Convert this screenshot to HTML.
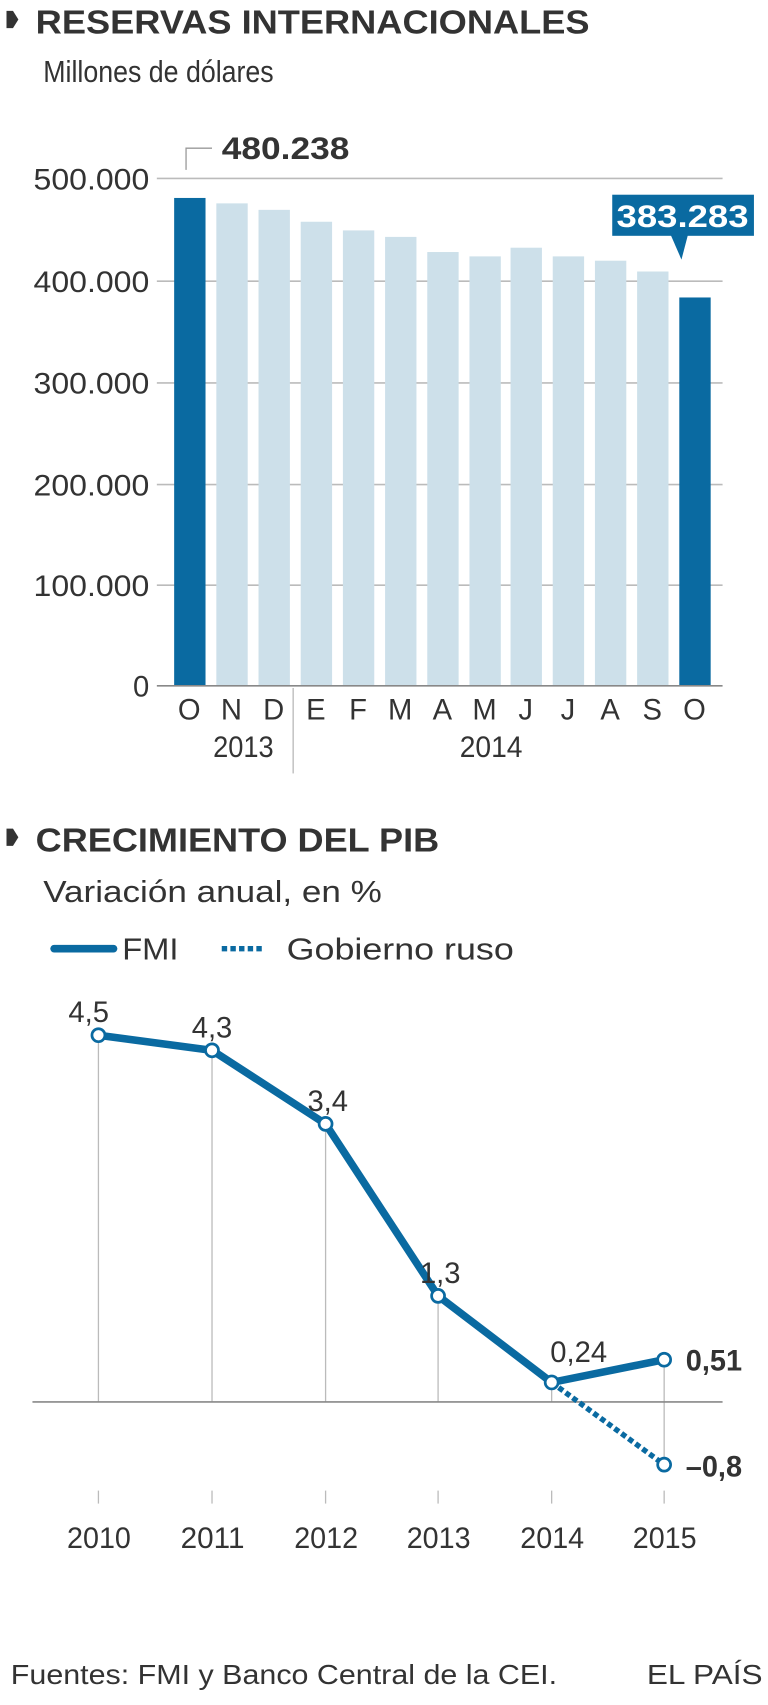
<!DOCTYPE html>
<html><head><meta charset="utf-8"><style>
html,body{margin:0;padding:0;background:#fff}
svg{display:block}
text{font-family:"Liberation Sans",sans-serif;fill:#333}
</style></head><body>
<svg width="768" height="1705" viewBox="0 0 710 1576.2" preserveAspectRatio="none">
<!-- Section 1 -->
<path d="M6 10 h6 l5 8 l-5 8 h-6z" fill="#333"/>
<text x="33" y="31" font-size="31" font-weight="bold" textLength="512" lengthAdjust="spacingAndGlyphs">RESERVAS INTERNACIONALES</text>
<text x="40" y="76" font-size="28" textLength="213" lengthAdjust="spacingAndGlyphs">Millones de dólares</text>
<g stroke="#bbb" stroke-width="1.5">
<line x1="145" y1="165" x2="668" y2="165"/>
<line x1="145" y1="260" x2="668" y2="260"/>
<line x1="145" y1="354" x2="668" y2="354"/>
<line x1="145" y1="448" x2="668" y2="448"/>
<line x1="145" y1="541" x2="668" y2="541"/>
</g>
<g font-size="27">
<text x="31" y="175" textLength="107" lengthAdjust="spacingAndGlyphs">500.000</text>
<text x="31" y="270" textLength="107" lengthAdjust="spacingAndGlyphs">400.000</text>
<text x="31" y="364" textLength="107" lengthAdjust="spacingAndGlyphs">300.000</text>
<text x="31" y="458" textLength="107" lengthAdjust="spacingAndGlyphs">200.000</text>
<text x="31" y="551" textLength="107" lengthAdjust="spacingAndGlyphs">100.000</text>
<text x="138" y="644" text-anchor="end">0</text>
</g>
<g fill="#cde0ea">
<rect x="200" y="188" width="29" height="446"/>
<rect x="239" y="194" width="29" height="440"/>
<rect x="278" y="205" width="29" height="429"/>
<rect x="317" y="213" width="29" height="421"/>
<rect x="356" y="219" width="29" height="415"/>
<rect x="395" y="233" width="29" height="401"/>
<rect x="434" y="237" width="29" height="397"/>
<rect x="472" y="229" width="29" height="405"/>
<rect x="511" y="237" width="29" height="397"/>
<rect x="550" y="241" width="29" height="393"/>
<rect x="589" y="251" width="29" height="383"/>
</g>
<rect x="161" y="183" width="29" height="451" fill="#0a6aa1"/>
<rect x="628" y="275" width="29" height="359" fill="#0a6aa1"/>
<line x1="145" y1="634" x2="668" y2="634" stroke="#888" stroke-width="1.5"/>
<polyline points="172,157 172,137 196,137" fill="none" stroke="#999" stroke-width="1.2"/>
<text x="205" y="147" font-size="29" font-weight="bold" textLength="118" lengthAdjust="spacingAndGlyphs">480.238</text>
<rect x="566" y="180" width="131" height="38" fill="#0a6aa1"/>
<polygon points="620,217 636,217 630,240" fill="#0a6aa1"/>
<text x="570" y="210" font-size="29" font-weight="bold" style="fill:#fff" textLength="122" lengthAdjust="spacingAndGlyphs">383.283</text>
<g font-size="27" text-anchor="middle">
<text x="175" y="665">O</text><text x="214" y="665">N</text><text x="253" y="665">D</text>
<text x="292" y="665">E</text><text x="331" y="665">F</text><text x="370" y="665">M</text>
<text x="409" y="665">A</text><text x="448" y="665">M</text><text x="486" y="665">J</text>
<text x="525" y="665">J</text><text x="564" y="665">A</text><text x="603" y="665">S</text>
<text x="642" y="665">O</text>
</g>
<text x="197" y="700" font-size="27" textLength="56" lengthAdjust="spacingAndGlyphs">2013</text>
<text x="425" y="700" font-size="27" textLength="58" lengthAdjust="spacingAndGlyphs">2014</text>
<line x1="271" y1="636" x2="271" y2="715" stroke="#aaa" stroke-width="1"/>
<!-- Section 2 -->
<path d="M6 766 h6 l5 8 l-5 8 h-6z" fill="#333"/>
<text x="33" y="787" font-size="31" font-weight="bold" textLength="373" lengthAdjust="spacingAndGlyphs">CRECIMIENTO DEL PIB</text>
<text x="40" y="834" font-size="28" textLength="313" lengthAdjust="spacingAndGlyphs">Variación anual, en %</text>
<line x1="50" y1="877" x2="105" y2="877" stroke="#0a6aa1" stroke-width="7" stroke-linecap="round"/>
<text x="113" y="887" font-size="28" textLength="52" lengthAdjust="spacingAndGlyphs">FMI</text>
<line x1="205" y1="877" x2="245" y2="877" stroke="#0a6aa1" stroke-width="5" stroke-dasharray="5,3"/>
<text x="265" y="887" font-size="28" textLength="210" lengthAdjust="spacingAndGlyphs">Gobierno ruso</text>
<g stroke="#bbb" stroke-width="1.2">
<line x1="91" y1="957" x2="91" y2="1296"/>
<line x1="196" y1="971" x2="196" y2="1296"/>
<line x1="301" y1="1039" x2="301" y2="1296"/>
<line x1="405" y1="1198" x2="405" y2="1296"/>
<line x1="510" y1="1278" x2="510" y2="1296"/>
<line x1="614" y1="1257" x2="614" y2="1354"/>
<line x1="91" y1="1378" x2="91" y2="1390"/>
<line x1="196" y1="1378" x2="196" y2="1390"/>
<line x1="301" y1="1378" x2="301" y2="1390"/>
<line x1="405" y1="1378" x2="405" y2="1390"/>
<line x1="510" y1="1378" x2="510" y2="1390"/>
<line x1="614" y1="1378" x2="614" y2="1390"/>
</g>
<line x1="30" y1="1296" x2="668" y2="1296" stroke="#888" stroke-width="1.5"/>
<line x1="510" y1="1278" x2="614" y2="1354" stroke="#0a6aa1" stroke-width="5" stroke-dasharray="5,3"/>
<polyline points="91,957 196,971 301,1039 405,1198 510,1278 614,1257" fill="none" stroke="#0a6aa1" stroke-width="7" stroke-linejoin="round"/>
<g fill="#fff" stroke="#0a6aa1" stroke-width="2.5">
<circle cx="91" cy="957" r="6"/><circle cx="196" cy="971" r="6"/><circle cx="301" cy="1039" r="6"/>
<circle cx="405" cy="1198" r="6"/><circle cx="510" cy="1278" r="6"/><circle cx="614" cy="1257" r="6"/>
<circle cx="614" cy="1354" r="6"/>
</g>
<g font-size="27" text-anchor="middle">
<text x="82" y="945">4,5</text><text x="196" y="959">4,3</text><text x="303" y="1027">3,4</text>
<text x="407" y="1186">1,3</text><text x="535" y="1259">0,24</text>
</g>
<text x="634" y="1267" font-size="27" font-weight="bold" textLength="52" lengthAdjust="spacingAndGlyphs">0,51</text>
<text x="634" y="1365" font-size="27" font-weight="bold" textLength="52" lengthAdjust="spacingAndGlyphs">–0,8</text>
<g font-size="27">
<text x="62" y="1431" textLength="59" lengthAdjust="spacingAndGlyphs">2010</text>
<text x="167" y="1431" textLength="59" lengthAdjust="spacingAndGlyphs">2011</text>
<text x="272" y="1431" textLength="59" lengthAdjust="spacingAndGlyphs">2012</text>
<text x="376" y="1431" textLength="59" lengthAdjust="spacingAndGlyphs">2013</text>
<text x="481" y="1431" textLength="59" lengthAdjust="spacingAndGlyphs">2014</text>
<text x="585" y="1431" textLength="59" lengthAdjust="spacingAndGlyphs">2015</text>
</g>
<text x="10" y="1557" font-size="26" textLength="505" lengthAdjust="spacingAndGlyphs">Fuentes: FMI y Banco Central de la CEI.</text>
<text x="598" y="1557" font-size="26" textLength="107" lengthAdjust="spacingAndGlyphs">EL PAÍS</text>
</svg>
</body></html>
